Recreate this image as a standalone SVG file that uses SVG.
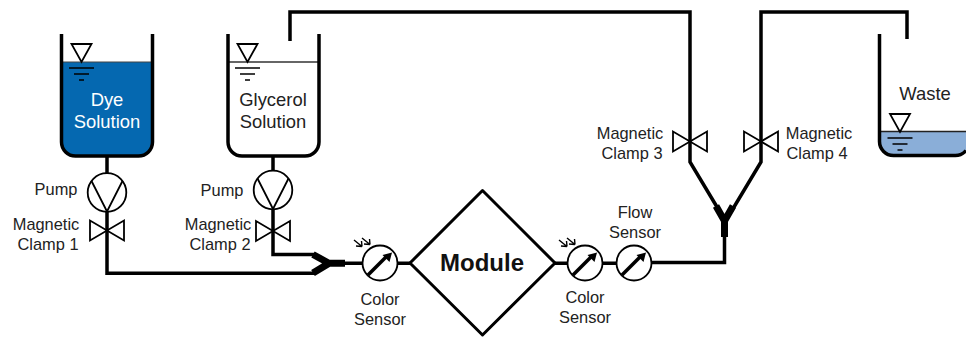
<svg xmlns="http://www.w3.org/2000/svg" width="966" height="337" viewBox="0 0 966 337">
<style>
text{font-family:"Liberation Sans",Arial,sans-serif;font-size:16.4px;fill:#222;text-anchor:middle}
.big{font-size:18.4px}
.pipe{fill:none;stroke:#000;stroke-width:3.5}
.thin{fill:none;stroke:#000;stroke-width:1.8}
.wall{fill:none;stroke:#000;stroke-width:3.5}
.lvl{stroke:#000;stroke-width:1.7}
.sym{fill:#fff;stroke:#000;stroke-width:1.8}
.thick{fill:none;stroke:#000;stroke-width:7}
</style>
<defs>
<g id="valve"><path class="thin" d="M-17-10V10L17-10V10Z"/></g>
<g id="pump"><circle class="sym" r="19.3"/><path class="thin" d="M-15.500-11.500L0 19L15.500-11.500"/></g>
<g id="sensor"><circle class="sym" r="17.500"/><path d="M-12 12L6-6" stroke="#000" stroke-width="3.500" fill="none"/><path d="M12-10.500L2.500-8L9.500-1Z" fill="#000"/></g>
<g id="light"><path d="M-26-23L-18-16.500M-18-16.500L-18.500-22M-18-16.500L-24-17M-18-25L-10-18.500M-10-18.500L-10.500-24M-10-18.500L-16-19" fill="none" stroke="#000" stroke-width="1.400"/></g>
<g id="level"><path class="sym" style="fill:none" d="M-10 0H10L0 18Z"/><path class="lvl" d="M-12.500 24H12.500M-7.500 30H7.500M-2.500 36H2.500"/></g>
</defs>
<g id="connectors">
<path class="pipe" d="M107 156V273.300H316"/>
<path class="pipe" d="M273 156V254.500H316"/>
<path class="thick" d="M313 254.500L329 263.300L313 273M326 263.300H345"/>
<path class="pipe" d="M345 263.300H363M397 263.300H411M554 263.300H568M602 263.300H617M651 262.500H724.500V232"/>
<path class="pipe" d="M290 41V12H690V162L720 212"/>
<path class="pipe" d="M907 39V12H761V162L731 212"/>
<path class="thick" d="M716 206L724.500 221L733 206M724.500 218V237"/>
</g>
<g id="tank-dye">
<path d="M61.500 62H152.500V142a14 14 0 0 1-14 14H75.500a14 14 0 0 1-14-14Z" fill="#0568b0"/>
<path d="M61.500 62H152.500" stroke="#444" stroke-width="1.200"/>
<path class="wall" d="M61.500 34V142a14 14 0 0 0 14 14H138.500a14 14 0 0 0 14-14V34"/>
<use href="#level" x="81.500" y="44"/>
<text class="big" x="107" y="106" style="fill:#fff">Dye</text>
<text class="big" x="107" y="128" style="fill:#fff">Solution</text>
</g>
<g id="tank-glycerol">
<path d="M228 62H319" stroke="#333" stroke-width="1.500"/>
<path class="wall" d="M228 34V142a14 14 0 0 0 14 14H305a14 14 0 0 0 14-14V34"/>
<use href="#level" x="247.500" y="44"/>
<text class="big" x="273" y="106">Glycerol</text>
<text class="big" x="273" y="128">Solution</text>
</g>
<g id="tank-waste">
<path d="M879.500 131.500H966V151a14 14 0 0 1-10 4.500H893.500a14 14 0 0 1-14-14Z" fill="#8aaed8"/>
<path d="M879.500 131.500H966" stroke="#222" stroke-width="1.500"/>
<path class="wall" d="M879.500 34V141.500a14 14 0 0 0 14 14H955a14 14 0 0 0 11-5"/>
<use href="#level" x="900" y="114"/>
<text class="big" x="925" y="100">Waste</text>
</g>
<g id="pump-1"><use href="#pump" x="107" y="192.500"/><text x="56" y="195">Pump</text></g>
<g id="pump-2"><use href="#pump" x="273" y="190"/><text x="222" y="196">Pump</text></g>
<g id="clamp-1"><use href="#valve" x="107" y="230.500"/><text x="46" y="230">Magnetic</text><text x="48" y="250">Clamp 1</text></g>
<g id="clamp-2"><use href="#valve" x="273" y="231"/><text x="218" y="230">Magnetic</text><text x="220" y="250">Clamp 2</text></g>
<g id="clamp-3"><use href="#valve" x="690" y="141.500"/><text x="630" y="139">Magnetic</text><text x="632" y="158.500">Clamp 3</text></g>
<g id="clamp-4"><use href="#valve" x="761" y="141.500"/><text x="819" y="139">Magnetic</text><text x="817" y="158.500">Clamp 4</text></g>
<g id="color-sensor-1"><use href="#sensor" x="380" y="263"/><use href="#light" x="380" y="263"/><text x="380" y="305">Color</text><text x="380" y="325">Sensor</text></g>
<g id="module"><path d="M482.500 190.500L555 263L482.500 335L410 263Z" fill="#fff" stroke="#000" stroke-width="3" stroke-linejoin="round"/><text x="482" y="271" style="font-size:24px;font-weight:bold;fill:#111">Module</text></g>
<g id="color-sensor-2"><use href="#sensor" x="585" y="263"/><use href="#light" x="585" y="263"/><text x="585" y="303">Color</text><text x="585" y="323">Sensor</text></g>
<g id="flow-sensor"><use href="#sensor" x="634" y="263"/><text x="635" y="218">Flow</text><text x="635" y="238">Sensor</text></g>
</svg>
